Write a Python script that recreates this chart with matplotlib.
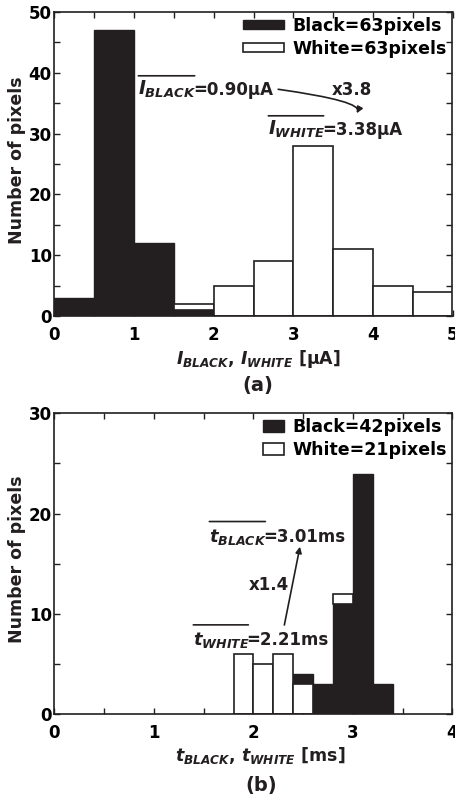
import matplotlib
matplotlib.use('Agg')
import matplotlib.pyplot as plt
from matplotlib.ticker import MultipleLocator

plt.rcParams['font.family'] = ['DejaVu Sans']
plt.rcParams['font.weight'] = 'bold'
plt.rcParams['mathtext.fontset'] = 'custom'
plt.rcParams['mathtext.it'] = 'DejaVu Sans:italic:bold'
plt.rcParams['mathtext.rm'] = 'DejaVu Sans:bold'
plt.rcParams['mathtext.bf'] = 'DejaVu Sans:bold'

INK = '#231f20'

# ---------------- data ----------------
a_bin_left = [0.0, 0.5, 1.0, 1.5, 2.0, 2.5, 3.0, 3.5, 4.0, 4.5]
a_bin_width = 0.5
a_black = [3, 47, 12, 1, 0, 0, 0, 0, 0, 0]
a_white = [0, 0, 0, 1, 5, 9, 28, 11, 5, 4]
a_xticks = [0, 1, 2, 3, 4, 5]
a_yticks = [0, 10, 20, 30, 40, 50]
a_labels = ['Black=63pixels', 'White=63pixels']

b_bin_left = [1.8, 2.0, 2.2, 2.4, 2.6, 2.8, 3.0, 3.2]
b_bin_width = 0.2
b_black = [0, 0, 0, 1, 3, 11, 24, 3]
b_white = [6, 5, 6, 3, 0, 1, 0, 0]
b_xticks = [0, 1, 2, 3, 4]
b_yticks = [0, 10, 20, 30]
b_labels = ['Black=42pixels', 'White=21pixels']

fig = plt.figure(figsize=(4.56, 7.97), dpi=100)
W, H = 456.0, 797.0


def px_axes(l, t, r, b):
    return fig.add_axes([l / W, 1 - b / H, (r - l) / W, (b - t) / H])


def draw_hist(ax, lefts, width, black, white, labels):
    bl, bh, bb = [], [], []
    wl, wh, wb = [], [], []
    for x, k, w in zip(lefts, black, white):
        if w > k:
            wbot, kbot = 0, w
        else:
            kbot, wbot = 0, k
        if k > 0:
            bl.append(x); bh.append(k); bb.append(kbot)
        if w > 0:
            wl.append(x); wh.append(w); wb.append(wbot)
    hb = ax.bar(bl, bh, width, bottom=bb, align='edge', color=INK,
                edgecolor=INK, linewidth=1.0, label=labels[0], zorder=2)
    hw = ax.bar(wl, wh, width, bottom=wb, align='edge', color='white',
                edgecolor=INK, linewidth=1.2, label=labels[1], zorder=2)
    return hb, hw


def style(ax, xmax, ymax, xt, yt, xminor, yminor):
    ax.set_xlim(0, xmax)
    ax.set_ylim(0, ymax)
    ax.set_xticks(xt)
    ax.set_yticks(yt)
    ax.xaxis.set_minor_locator(MultipleLocator(xminor))
    ax.yaxis.set_minor_locator(MultipleLocator(yminor))
    ax.tick_params(which='both', direction='in', top=True, right=True,
                   length=4, width=1.0, color=INK)
    ax.tick_params(axis='x', which='major', pad=7, labelsize=12)
    ax.tick_params(axis='y', which='major', pad=2, labelsize=12)
    for s in ax.spines.values():
        s.set_linewidth(1.2)
        s.set_color(INK)
    for lab in ax.get_xticklabels() + ax.get_yticklabels():
        lab.set_fontweight('bold')


def overlined(ax, x, y, sym, sub, rest, ofs, size):
    t1 = ax.text(x, y, r'$%s_{%s}$' % (sym, sub), fontsize=size,
                 ha='left', va='baseline', color=INK)
    ax.annotate(rest, xy=(1, y), xycoords=(t1, 'data'), xytext=(-2.5, 0),
                textcoords='offset points', fontsize=12,
                ha='left', va='baseline', color=INK)
    ax.annotate('', xy=(0.97, ofs), xycoords=t1, xytext=(0.0, ofs),
                textcoords=t1,
                arrowprops=dict(arrowstyle='-', lw=1.2, color=INK,
                                shrinkA=0, shrinkB=0))


arrow_kw = dict(arrowstyle='-|>', color=INK, lw=1.2, mutation_scale=9,
                shrinkA=0, shrinkB=0)

# ---------------- panel (a) ----------------
axa = px_axes(54.5, 12, 452.5, 316)
draw_hist(axa, a_bin_left, a_bin_width, a_black, a_white, a_labels)
style(axa, 5, 50, a_xticks, a_yticks, 0.5, 5)
axa.legend(loc='upper right', bbox_to_anchor=(0.985, 0.985), frameon=False,
           fontsize=12.5, borderpad=0, borderaxespad=0, handlelength=2.4,
           handleheight=0.4, handletextpad=0.45, labelspacing=0.3)
overlined(axa, 1.053, 36.35, 'I', 'BLACK', '=0.90μA', ofs=1.15, size=13.5)
overlined(axa, 2.686, 29.77, 'I', 'WHITE', '=3.38μA', ofs=1.15, size=13.5)
axa.text(3.74, 36.35, 'x3.8', fontsize=12, ha='center', va='baseline',
         color=INK)
axa.annotate('', xy=(3.796, 33.34), xytext=(2.81, 37.29),
             arrowprops=dict(connectionstyle='angle3,angleA=-8,angleB=62',
                             **arrow_kw))
fig.text(17 / W, 1 - 160 / H, 'Number of pixels', rotation=90, fontsize=12.5,
         ha='center', va='center', color=INK)
fig.text(258 / W, 1 - 359 / H, r'$I_{BLACK}$, $I_{WHITE}$ [μA]', fontsize=12.5,
         ha='center', va='center', color=INK)
fig.text(258 / W, 1 - 385 / H, '(a)', fontsize=14, ha='center', va='center',
         color=INK)

# ---------------- panel (b) ----------------
axb = px_axes(54.5, 413.3, 452.5, 714.3)
draw_hist(axb, b_bin_left, b_bin_width, b_black, b_white, b_labels)
style(axb, 4, 30, b_xticks, b_yticks, 0.5, 5)
axb.legend(loc='upper right', bbox_to_anchor=(0.985, 0.985), frameon=False,
           fontsize=12.5, borderpad=0, borderaxespad=0, handlelength=1.25,
           handleheight=0.65, handletextpad=0.45, labelspacing=0.3)
overlined(axb, 1.556, 17.2, 't', 'BLACK', '=3.01ms', ofs=1.26, size=13)
overlined(axb, 1.395, 6.9, 't', 'WHITE', '=2.21ms', ofs=1.26, size=13)
axb.text(2.15, 12.4, 'x1.4', fontsize=12, ha='center', va='baseline',
         color=INK)
axb.annotate('', xy=(2.467, 16.7), xytext=(2.31, 8.9), arrowprops=arrow_kw)
fig.text(17 / W, 1 - 559 / H, 'Number of pixels', rotation=90, fontsize=12.5,
         ha='center', va='center', color=INK)
fig.text(260 / W, 1 - 755 / H, r'$t_{BLACK}$, $t_{WHITE}$ [ms]', fontsize=12.5,
         ha='center', va='center', color=INK)
fig.text(261 / W, 1 - 785 / H, '(b)', fontsize=14, ha='center', va='center',
         color=INK)

fig.savefig('out.png', dpi=100)
